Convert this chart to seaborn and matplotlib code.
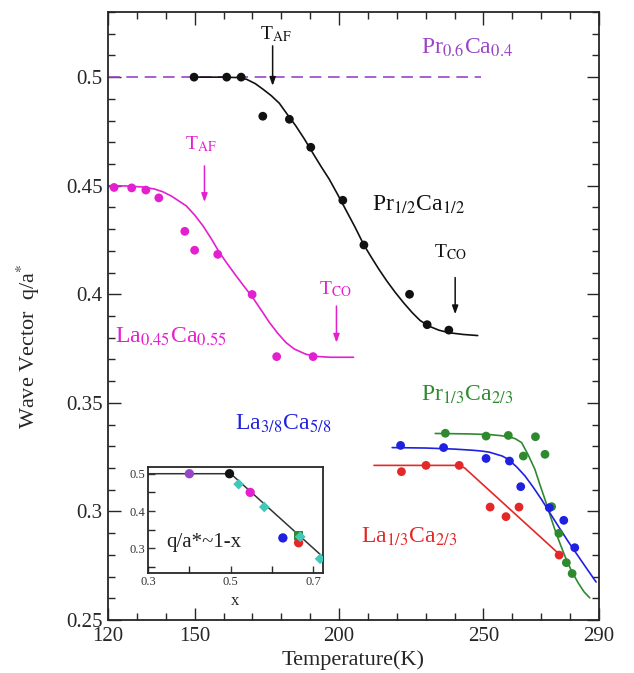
import numpy as np
import pandas as pd
import matplotlib
matplotlib.use("Agg")
import matplotlib.pyplot as plt
from matplotlib.ticker import MultipleLocator, FixedLocator
import seaborn as sns

# ---------------- data ----------------
pr06_T = [120, 249]
pr06_q = [0.5, 0.5]

pr12_T = [149.8, 161.1, 166.1, 173.6, 182.8, 190.2, 201.3, 208.6, 224.4, 230.5, 238.0]
pr12_q = [0.5, 0.5, 0.5, 0.482, 0.4806, 0.4677, 0.4433, 0.4227, 0.400, 0.386, 0.3835]
pr12_fit_T = [150, 160, 165, 168, 171, 173.6, 176.5, 179.3, 182, 185, 188, 190.8, 193.7, 196.6, 199.5,
              202.3, 205.5, 208.6, 211.2, 213.8, 216.6, 219.5, 222.4, 225.3, 228, 231, 234.5, 238, 243, 248]
pr12_fit_q = [0.5, 0.5, 0.4998, 0.499, 0.497, 0.4945, 0.4915, 0.488, 0.483, 0.4776, 0.4715, 0.4653,
              0.459, 0.453, 0.446, 0.439, 0.431, 0.4227, 0.417, 0.4115, 0.406, 0.4008, 0.396, 0.3916,
              0.388, 0.3854, 0.3835, 0.3823, 0.3815, 0.381]

la45_T = [122.1, 128.2, 133.1, 137.6, 146.6, 150.0, 158.0, 169.9, 178.4, 191.0]
la45_q = [0.4492, 0.449, 0.448, 0.4444, 0.429, 0.4203, 0.4184, 0.3999, 0.3713, 0.3713]
la45_fit_T = [120, 126, 132, 136, 139, 142, 144.5, 147.1, 150, 152.9, 155.8, 158.6, 161.5, 164.4, 167.2,
              170.1, 173, 175.9, 178.8, 181.6, 184.5, 188.5, 192, 197, 205]
la45_fit_q = [0.45, 0.4499, 0.4494, 0.4485, 0.4472, 0.4452, 0.443, 0.4407, 0.4365, 0.4315, 0.4255,
              0.4192, 0.4137, 0.4084, 0.4035, 0.3985, 0.3928, 0.387, 0.382, 0.3778, 0.3748, 0.3724,
              0.3714, 0.371, 0.371]

pr13_T = [236.8, 250.9, 258.6, 268.0, 263.8, 271.3, 273.6, 276.1, 278.7, 280.7]
pr13_q = [0.336, 0.3347, 0.335, 0.3344, 0.3255, 0.3263, 0.3022, 0.2899, 0.2764, 0.2714]
pr13_fit_T = [233.3, 245, 252, 256, 259, 261, 263.2, 265.5, 267.8, 269.5, 271.3, 273, 274.7, 276.5,
              278.2, 280.5, 282.8, 284.8, 286.8]
pr13_fit_q = [0.3359, 0.3357, 0.3354, 0.3349, 0.3343, 0.3335, 0.3317, 0.326, 0.3194, 0.3125, 0.3055,
              0.2985, 0.2917, 0.2852, 0.2794, 0.2725, 0.2671, 0.263, 0.2602]

la38_T = [221.3, 236.2, 250.9, 259.0, 262.9, 272.8, 277.8, 281.6]
la38_q = [0.3304, 0.3294, 0.3244, 0.3232, 0.3114, 0.3017, 0.2959, 0.2833]
la38_fit_T = [218.4, 230, 240, 246, 249.4, 252, 254, 256.5, 258.6, 261.5, 264.4, 267.2, 270.1, 273,
              275.9, 279.3, 282.8, 286, 289]
la38_fit_q = [0.3294, 0.3292, 0.3287, 0.3282, 0.3278, 0.3273, 0.3265, 0.3255, 0.324, 0.3205, 0.3163,
              0.3112, 0.3055, 0.2993, 0.2932, 0.2862, 0.2794, 0.2732, 0.2675]

la13_T = [221.6, 230.1, 241.6, 252.3, 257.8, 262.3, 276.2]
la13_q = [0.3183, 0.3212, 0.3212, 0.302, 0.2976, 0.302, 0.2799]
la13_fit_T = [212.1, 241.5, 243.5, 277.0]
la13_fit_q = [0.3212, 0.3212, 0.3200, 0.2794]

# inset: q/a* versus x
inset_line_x = [0.3, 0.5, 0.723]
inset_line_q = [0.5, 0.5, 0.277]
inset_x = [0.40, 0.497, 0.547, 0.626, 0.664, 0.664]
inset_q = [0.50, 0.50, 0.45, 0.328, 0.315, 0.335]
inset_group = ["Pr0.6", "Pr1/2", "La0.45", "La3/8", "La1/3", "Pr1/3"]
inset_cyan_x = [0.519, 0.581, 0.668, 0.716]
inset_cyan_q = [0.472, 0.411, 0.331, 0.272]

# ---------------- style ----------------
sns.set_style("ticks")
plt.rcParams["font.family"] = ["Liberation Serif", "DejaVu Serif"]
plt.rcParams["mathtext.fontset"] = "stix"

C_PURPLE = "#9a45c8"
C_MAG = "#e41fd0"
C_BLACK = "#111111"
C_BLUE = "#2020e0"
C_GREEN = "#2f8a2f"
C_RED = "#e42828"
C_CYAN = "#40c8b8"

fig = plt.figure(figsize=(6.34, 6.73), dpi=100)
ax = fig.add_axes([108 / 634, 1 - 620 / 673, (599 - 108) / 634, (620 - 12) / 673])

ms = 40
lw = 1.2

# Pr0.6Ca0.4 dashed
sns.lineplot(x=pr06_T, y=pr06_q, ax=ax, color=C_PURPLE, lw=lw, sort=False, estimator=None)
ax.lines[-1].set_dashes((7, 4))

def series(Tp, qp, Tf, qf, color):
    sns.lineplot(x=Tf, y=qf, ax=ax, color=color, lw=lw, sort=False, estimator=None)
    sns.scatterplot(x=Tp, y=qp, ax=ax, color=color, s=ms, edgecolor="none", zorder=3)

series(pr12_T, pr12_q, pr12_fit_T, pr12_fit_q, C_BLACK)
series(la45_T, la45_q, la45_fit_T, la45_fit_q, C_MAG)
series(pr13_T, pr13_q, pr13_fit_T, pr13_fit_q, C_GREEN)
series(la38_T, la38_q, la38_fit_T, la38_fit_q, C_BLUE)
series(la13_T, la13_q, la13_fit_T, la13_fit_q, C_RED)

ax.set_xlim(120, 290)
ax.set_ylim(0.25, 0.53)
ax.xaxis.set_major_locator(FixedLocator([120, 150, 200, 250, 290]))
ax.xaxis.set_minor_locator(MultipleLocator(10))
ax.yaxis.set_major_locator(FixedLocator([0.25, 0.3, 0.35, 0.4, 0.45, 0.5]))
ax.yaxis.set_minor_locator(MultipleLocator(0.01))
ax.set_yticklabels(["0.25", "0.3", "0.35", "0.4", "0.45", "0.5"])
ax.set_xticklabels(["120", "150", "200", "250", "290"])
ax.tick_params(which="both", direction="in", top=True, right=True, width=1.0)
ax.tick_params(which="major", length=9, labelsize=15, pad=4)
ax.tick_params(which="minor", length=5)
ax.tick_params(axis="x", which="major", pad=5)
for s in ax.spines.values():
    s.set_linewidth(1.3)
    s.set_visible(True)

ax.set_xlabel("Temperature(K)", fontsize=16, labelpad=3)
ax.set_ylabel(r"Wave Vector  q/a$^{*}$", fontsize=16, labelpad=8)
ax.yaxis.set_label_coords(-0.135, 0.45)

# labels
fs = 17
ax.text(228.2, 0.5106, r"Pr$_{0.6}$Ca$_{0.4}$", color=C_PURPLE, fontsize=fs, va="baseline")
ax.text(211.4, 0.4384, r"Pr$_{1/2}$Ca$_{1/2}$", color=C_BLACK, fontsize=fs, va="baseline")
ax.text(122.4, 0.3777, r"La$_{0.45}$Ca$_{0.55}$", color=C_MAG, fontsize=fs, va="baseline")
ax.text(228.2, 0.3508, r"Pr$_{1/3}$Ca$_{2/3}$", color=C_GREEN, fontsize=fs, va="baseline")
ax.text(163.8, 0.3378, r"La$_{3/8}$Ca$_{5/8}$", color=C_BLUE, fontsize=fs, va="baseline")
ax.text(207.5, 0.2856, r"La$_{1/3}$Ca$_{2/3}$", color=C_RED, fontsize=fs, va="baseline")

fs2 = 14
ax.text(172.5, 0.5175, r"T$_{\mathrm{AF}}$", color=C_BLACK, fontsize=fs2, va="baseline")
ax.text(232.8, 0.4169, r"T$_{\mathrm{CO}}$", color=C_BLACK, fontsize=fs2, va="baseline")
ax.text(146.6, 0.4668, r"T$_{\mathrm{AF}}$", color=C_MAG, fontsize=fs2, va="baseline")
ax.text(192.9, 0.4000, r"T$_{\mathrm{CO}}$", color=C_MAG, fontsize=fs2, va="baseline")

def arrow(T, q0, q1, color):
    ax.annotate("", xy=(T, q1), xytext=(T, q0),
                arrowprops=dict(arrowstyle="-|>,head_length=0.5,head_width=0.18", color=color, lw=1.1,
                                shrinkA=0, shrinkB=0))

arrow(177.0, 0.5144, 0.496, C_BLACK)
arrow(240.2, 0.4077, 0.3908, C_BLACK)
arrow(153.4, 0.4591, 0.4425, C_MAG)
arrow(199.1, 0.3946, 0.3777, C_MAG)

# ---------------- inset ----------------
iax = fig.add_axes([148 / 634, 1 - 573 / 673, (323 - 148) / 634, (573 - 467) / 673])
sns.lineplot(x=inset_line_x, y=inset_line_q, ax=iax, color="#333333", lw=1.1, sort=False, estimator=None)
pal = {"Pr0.6": C_PURPLE, "Pr1/2": C_BLACK, "La0.45": C_MAG, "La3/8": C_BLUE,
       "La1/3": C_RED, "Pr1/3": C_GREEN}
idf = pd.DataFrame({"x": inset_x, "q": inset_q, "g": inset_group})
mk = {"Pr0.6": "o", "Pr1/2": "o", "La0.45": "o", "La3/8": "o", "La1/3": "o", "Pr1/3": "s"}
sns.scatterplot(data=idf, x="x", y="q", hue="g", style="g", markers=mk, palette=pal, ax=iax,
                s=45, edgecolor="none", legend=False, zorder=3)
sns.scatterplot(x=inset_cyan_x, y=inset_cyan_q, ax=iax, color=C_CYAN, marker="D", s=30,
                edgecolor="none", zorder=4)
iax.set_xlim(0.3, 0.723)
iax.set_ylim(0.234, 0.518)
iax.xaxis.set_major_locator(FixedLocator([0.3, 0.5, 0.7]))
iax.xaxis.set_minor_locator(FixedLocator([0.4, 0.6]))
iax.yaxis.set_major_locator(FixedLocator([0.3, 0.4, 0.5]))
iax.yaxis.set_minor_locator(FixedLocator([0.25, 0.35, 0.45]))
iax.set_xticklabels(["0.3", "0.5", "0.7"])
iax.set_yticklabels(["0.3", "0.4", "0.5"])
iax.tick_params(which="both", direction="in", width=1.0)
iax.tick_params(which="major", length=5, labelsize=9, pad=2, colors="#333333")
iax.tick_params(which="minor", length=5)
for s in iax.spines.values():
    s.set_linewidth(1.3)
iax.set_xlabel("x", fontsize=12, labelpad=4)
iax.set_ylabel("")
iax.text(0.345, 0.305, "q/a*~1-x", fontsize=15, color="#222222", va="baseline")

fig.savefig("out.png", dpi=100)
